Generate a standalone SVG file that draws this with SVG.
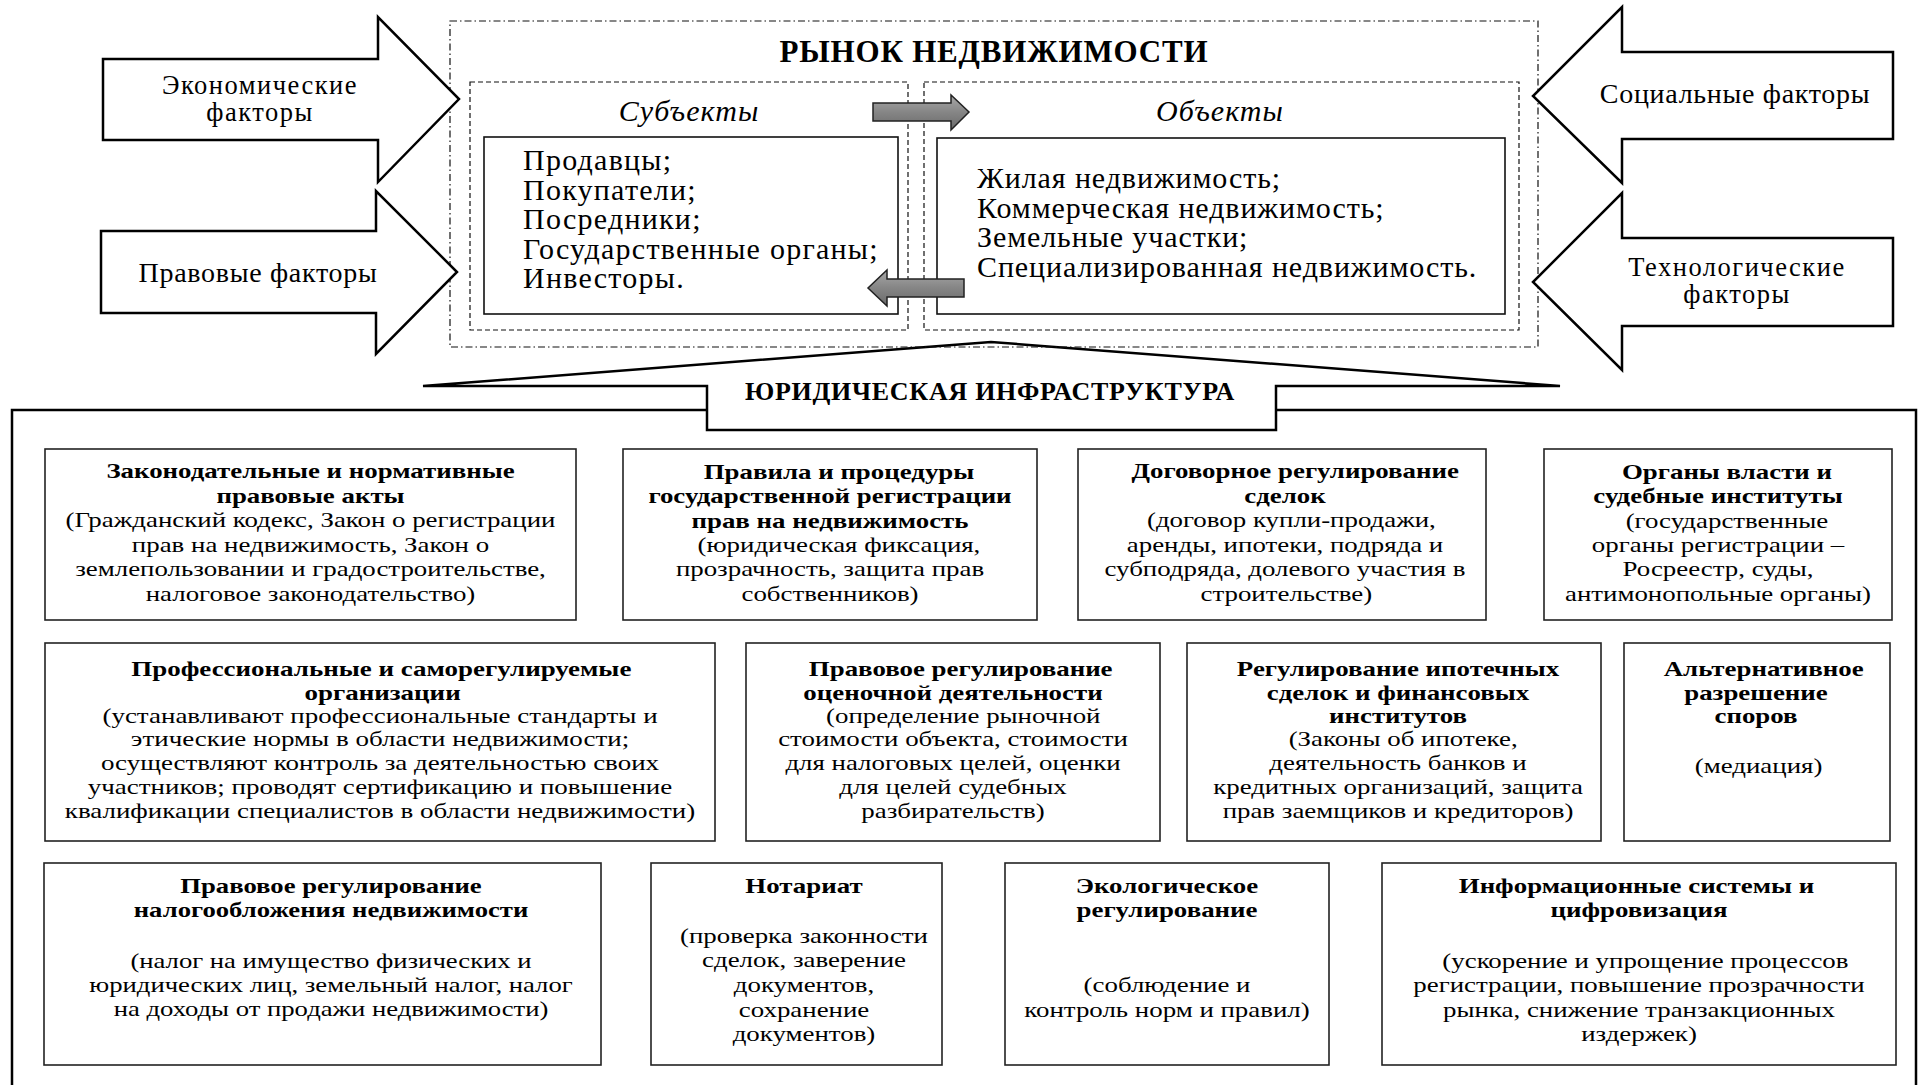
<svg xmlns="http://www.w3.org/2000/svg" width="1919" height="1085" viewBox="0 0 1919 1085">
<style>
text{font-family:"Liberation Serif","Times New Roman",serif;fill:#000}
.f{font-size:28px;text-anchor:middle;letter-spacing:0.7px}
.f2{font-size:26.5px;text-anchor:middle;letter-spacing:1.5px}
.t{font-size:31px;font-weight:bold;text-anchor:middle;letter-spacing:0.8px}
.it{font-size:30px;font-style:italic;text-anchor:middle;letter-spacing:1.05px}
.ls1{font-size:30px;letter-spacing:1.25px}
.ls2{font-size:30px;letter-spacing:0.9px}
.ban{font-size:26px;font-weight:bold;text-anchor:middle;letter-spacing:0.72px}
.h{font-size:21px;font-weight:bold;text-anchor:middle}
.b{font-size:21px;text-anchor:middle}
.bigarrow{fill:#fff;stroke:#000;stroke-width:2.5;stroke-linejoin:miter}
.gray{fill:url(#g);stroke:#222;stroke-width:1.5}
.box{fill:#fff;stroke:#222;stroke-width:1.6}
.inner{fill:#fff;stroke:#111;stroke-width:1.6}
.dash{fill:none;stroke:#111;stroke-width:1.2;stroke-dasharray:5 3}
.dashdot{fill:none;stroke:#111;stroke-width:1.2;stroke-dasharray:7 3 1.5 3}
.frame{fill:#fff;stroke:#000;stroke-width:2.5}
</style>
<defs>
<linearGradient id="g" x1="0" y1="0" x2="0" y2="1">
<stop offset="0" stop-color="#a8a8a8"/>
<stop offset="0.5" stop-color="#858585"/>
<stop offset="1" stop-color="#6a6a6a"/>
</linearGradient>
</defs>
<rect width="1919" height="1085" fill="#fff"/>

<g id="infra-frame">
<rect class="frame" x="12" y="410" width="1904" height="700"/>
</g>
<g id="infra-banner">
<polygon class="frame" points="423,386 991,342 1560,386 1276,386 1276,430 707,430 707,386"/>
<text class="ban" x="990" y="400">ЮРИДИЧЕСКАЯ ИНФРАСТРУКТУРА</text>
</g>

<g id="market">
<rect class="dashdot" x="450" y="21" width="1088" height="326"/>
<text class="t" x="994" y="62">РЫНОК НЕДВИЖИМОСТИ</text>
</g>
<g id="subjects">
<rect class="dash" x="470" y="82" width="438" height="248"/>
<text class="it" x="689" y="121">Субъекты</text>
<rect class="inner" x="484" y="137" width="414" height="177"/>
<text class="ls1" x="523" y="170">Продавцы;</text>
<text class="ls1" x="523" y="199.5">Покупатели;</text>
<text class="ls1" x="523" y="229">Посредники;</text>
<text class="ls1" x="523" y="258.5">Государственные органы;</text>
<text class="ls1" x="523" y="288">Инвесторы.</text>
</g>
<g id="objects">
<rect class="dash" x="924" y="82" width="595" height="248"/>
<text class="it" x="1220" y="121">Объекты</text>
<rect class="inner" x="937" y="138" width="568" height="176"/>
<text class="ls2" x="977" y="188">Жилая недвижимость;</text>
<text class="ls2" x="977" y="217.5">Коммерческая недвижимость;</text>
<text class="ls2" x="977" y="247">Земельные участки;</text>
<text class="ls2" x="977" y="276.5">Специализированная недвижимость.</text>
</g>
<g id="connectors">
<polygon class="gray" points="873,103 951,103 951,95 969,112 951,130 951,121 873,121"/>
<polygon class="gray" points="964,279 887,279 887,270 868,288 887,306 887,297 964,297"/>
</g>

<g id="factor-economic">
<polygon class="bigarrow" points="103,59 378,59 378,17 459,99 378,182 378,140 103,140"/>
<text class="f2" x="260" y="94">Экономические</text>
<text class="f2" x="260" y="120.5">факторы</text>
</g>
<g id="factor-legal">
<polygon class="bigarrow" points="101,231 376,231 376,191 457,272 376,354 376,313 101,313"/>
<text class="f" x="258" y="282">Правовые факторы</text>
</g>
<g id="factor-social">
<polygon class="bigarrow" points="1893,52 1622,52 1622,7 1533,96 1622,183 1622,139 1893,139"/>
<text class="f" x="1735" y="103">Социальные факторы</text>
</g>
<g id="factor-tech">
<polygon class="bigarrow" points="1893,238 1622,238 1622,193 1533,282 1622,370 1622,326 1893,326"/>
<text class="f2" x="1737" y="276">Технологические</text>
<text class="f2" x="1737" y="303">факторы</text>
</g>

<g id="n-legislation">
<rect class="box" x="45" y="449" width="531" height="171"/>
<g transform="translate(310.5 0) scale(1.28 1)">
<text class="h" x="0" y="478">Законодательные и нормативные</text>
<text class="h" x="0" y="503">правовые акты</text>
<text class="b" x="0" y="527.5">(Гражданский кодекс, Закон о регистрации</text>
<text class="b" x="0" y="552">прав на недвижимость, Закон о</text>
<text class="b" x="0" y="576.5">землепользовании и градостроительстве,</text>
<text class="b" x="0" y="601">налоговое законодательство)</text>
</g>
</g>
<g id="n-registration">
<rect class="box" x="623" y="449" width="414" height="171"/>
<g transform="translate(830 0) scale(1.28 1)">
<text class="h" x="7" y="479">Правила и процедуры</text>
<text class="h" x="0" y="503.5">государственной регистрации</text>
<text class="h" x="0" y="528">прав на недвижимость</text>
<text class="b" x="7" y="552">(юридическая фиксация,</text>
<text class="b" x="0" y="576.5">прозрачность, защита прав</text>
<text class="b" x="0" y="601">собственников)</text>
</g>
</g>
<g id="n-contracts">
<rect class="box" x="1078" y="449" width="408" height="171"/>
<g transform="translate(1285 0) scale(1.28 1)">
<text class="h" x="8" y="478">Договорное регулирование</text>
<text class="h" x="0" y="503">сделок</text>
<text class="b" x="5" y="527.5">(договор купли-продажи,</text>
<text class="b" x="0" y="552">аренды, ипотеки, подряда и</text>
<text class="b" x="0" y="576.5">субподряда, долевого участия в</text>
<text class="b" x="1" y="601">строительстве)</text>
</g>
</g>
<g id="n-authorities">
<rect class="box" x="1544" y="449" width="348" height="171"/>
<g transform="translate(1718 0) scale(1.28 1)">
<text class="h" x="7" y="479">Органы власти и</text>
<text class="h" x="0" y="503.5">судебные институты</text>
<text class="b" x="7" y="528">(государственные</text>
<text class="b" x="0" y="552">органы регистрации –</text>
<text class="b" x="0" y="576.5">Росреестр, суды,</text>
<text class="b" x="0" y="601">антимонопольные органы)</text>
</g>
</g>

<g id="n-professional">
<rect class="box" x="45" y="643" width="670" height="198"/>
<g transform="translate(380 0) scale(1.285 1)">
<text class="h" x="1" y="676">Профессиональные и саморегулируемые</text>
<text class="h" x="2" y="700">организации</text>
<text class="b" x="0" y="723">(устанавливают профессиональные стандарты и</text>
<text class="b" x="0" y="746.5">этические нормы в области недвижимости;</text>
<text class="b" x="0" y="770">осуществляют контроль за деятельностью своих</text>
<text class="b" x="0" y="794">участников; проводят сертификацию и повышение</text>
<text class="b" x="0" y="818">квалификации специалистов в области недвижимости)</text>
</g>
</g>
<g id="n-valuation">
<rect class="box" x="746" y="643" width="414" height="198"/>
<g transform="translate(953 0) scale(1.28 1)">
<text class="h" x="6" y="676">Правовое регулирование</text>
<text class="h" x="0" y="700">оценочной деятельности</text>
<text class="b" x="8" y="723">(определение рыночной</text>
<text class="b" x="0" y="746.5">стоимости объекта, стоимости</text>
<text class="b" x="0" y="770">для налоговых целей, оценки</text>
<text class="b" x="0" y="794">для целей судебных</text>
<text class="b" x="0" y="818">разбирательств)</text>
</g>
</g>
<g id="n-mortgage">
<rect class="box" x="1187" y="643" width="414" height="198"/>
<g transform="translate(1398 0) scale(1.28 1)">
<text class="h" x="0" y="676">Регулирование ипотечных</text>
<text class="h" x="0" y="700">сделок и финансовых</text>
<text class="h" x="0" y="723">институтов</text>
<text class="b" x="4" y="746.5">(Законы об ипотеке,</text>
<text class="b" x="0" y="770">деятельность банков и</text>
<text class="b" x="0" y="794">кредитных организаций, защита</text>
<text class="b" x="0" y="818">прав заемщиков и кредиторов)</text>
</g>
</g>
<g id="n-adr">
<rect class="box" x="1624" y="643" width="266" height="198"/>
<g transform="translate(1756 0) scale(1.28 1)">
<text class="h" x="6" y="676">Альтернативное</text>
<text class="h" x="0" y="700">разрешение</text>
<text class="h" x="0" y="723">споров</text>
<text class="b" x="2" y="773">(медиация)</text>
</g>
</g>

<g id="n-tax">
<rect class="box" x="44" y="863" width="557" height="202"/>
<g transform="translate(331 0) scale(1.27 1)">
<text class="h" x="0" y="893">Правовое регулирование</text>
<text class="h" x="0" y="917.5">налогообложения недвижимости</text>
<text class="b" x="0" y="968">(налог на имущество физических и</text>
<text class="b" x="0" y="992">юридических лиц, земельный налог, налог</text>
<text class="b" x="0" y="1016.5">на доходы от продажи недвижимости)</text>
</g>
</g>
<g id="n-notary">
<rect class="box" x="651" y="863" width="291" height="202"/>
<g transform="translate(804 0) scale(1.28 1)">
<text class="h" x="0" y="893">Нотариат</text>
<text class="b" x="0" y="943">(проверка законности</text>
<text class="b" x="0" y="967.5">сделок, заверение</text>
<text class="b" x="0" y="992">документов,</text>
<text class="b" x="0" y="1016.5">сохранение</text>
<text class="b" x="0" y="1041">документов)</text>
</g>
</g>
<g id="n-ecology">
<rect class="box" x="1005" y="863" width="324" height="202"/>
<g transform="translate(1167 0) scale(1.28 1)">
<text class="h" x="0" y="893">Экологическое</text>
<text class="h" x="0" y="917.5">регулирование</text>
<text class="b" x="0" y="992">(соблюдение и</text>
<text class="b" x="0" y="1016.5">контроль норм и правил)</text>
</g>
</g>
<g id="n-digital">
<rect class="box" x="1382" y="863" width="514" height="202"/>
<g transform="translate(1639 0) scale(1.28 1)">
<text class="h" x="-2" y="893">Информационные системы и</text>
<text class="h" x="0" y="917.5">цифровизация</text>
<text class="b" x="5" y="968">(ускорение и упрощение процессов</text>
<text class="b" x="0" y="992">регистрации, повышение прозрачности</text>
<text class="b" x="0" y="1016.5">рынка, снижение транзакционных</text>
<text class="b" x="0" y="1041">издержек)</text>
</g>
</g>
</svg>
